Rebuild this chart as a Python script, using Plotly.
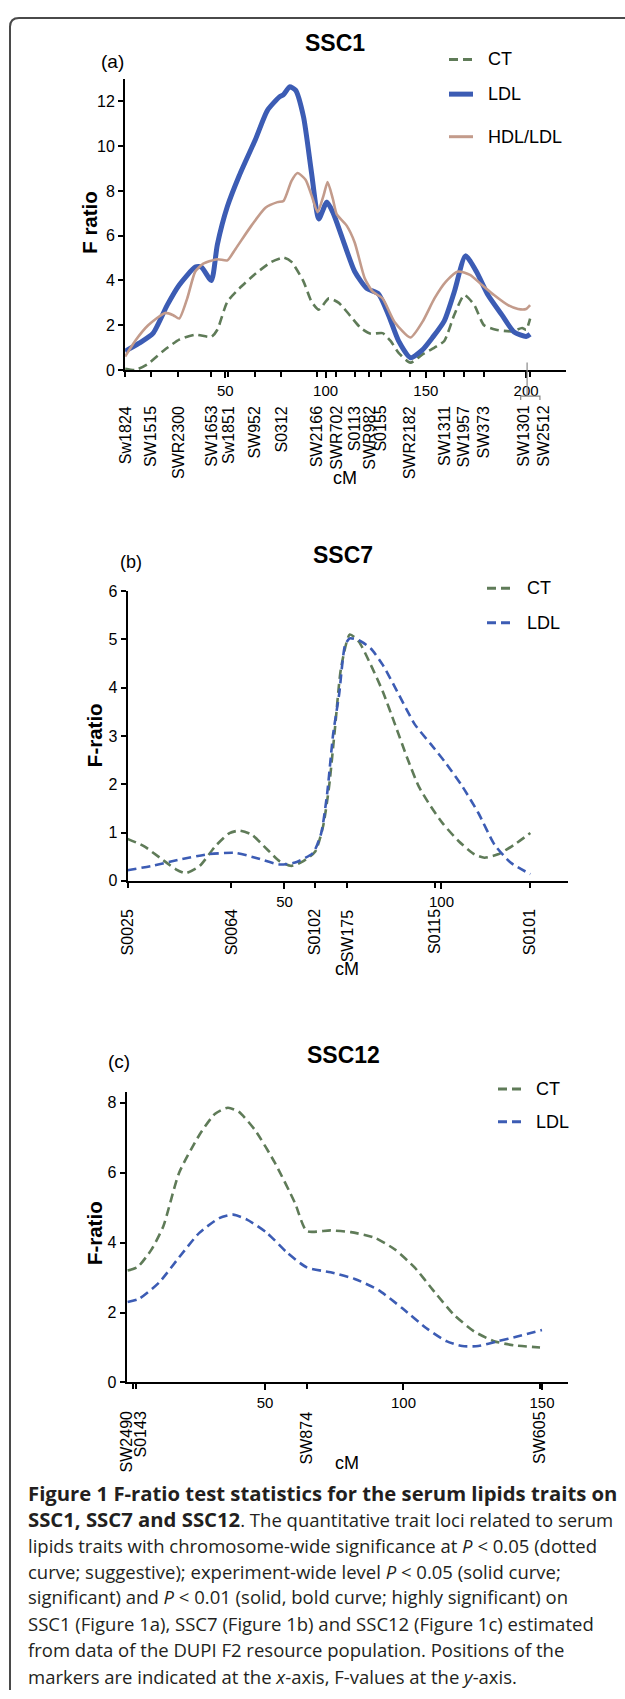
import plotly.graph_objects as go

W, H = 625, 1699


def px(x):
    return x / W


def py(y):
    return 1 - y / H


FONT = "Liberation Sans, Arial, Helvetica, sans-serif"
CAP_FONT = "Open Sans, sans-serif"
GREEN = "#5f7b58"
BLUE = "#3c5cb4"
TAN = "#c39b8b"

# ---------------- Panel (a) SSC1 ----------------
a_ct_cm = [0, 5, 11, 19, 27, 35, 43, 46, 51, 57, 65, 73, 79, 83, 89, 93, 96.6, 101.6, 106.6,
           112.5, 117.5, 122.5, 128.4, 132.4, 136.4, 142.3, 148.3, 154.3, 159.2, 164.2, 169.2,
           174.2, 179, 185, 193, 198, 200, 202]
a_ct_f = [0.06, 0.0, 0.25, 0.85, 1.36, 1.58, 1.48, 1.8, 3.05, 3.65, 4.3, 4.83, 5.02, 4.83, 3.95,
          3.05, 2.7, 3.2, 3.0, 2.4, 1.88, 1.62, 1.65, 1.3, 0.77, 0.33, 0.7, 1.0, 1.3, 2.47, 3.35,
          2.9, 2.0, 1.8, 1.73, 1.88, 1.8, 2.3]

a_ldl_cm = [0, 7, 14, 21, 27, 35, 38, 43, 46, 51, 57, 65, 71, 77, 79, 82, 85, 89, 93, 96.6,
            100.6, 103.6, 108.5, 114.5, 120.5, 126.4, 131.4, 136.4, 142.3, 148.3, 153.3, 159.2,
            164.2, 169.8, 175.2, 181, 188, 194, 200, 202]
a_ldl_f = [0.84, 1.2, 1.65, 2.9, 3.8, 4.6, 4.6, 4.0, 5.6, 7.3, 8.7, 10.3, 11.6, 12.2, 12.3, 12.65,
           12.5, 11.3, 8.8, 6.75, 7.5, 7.05, 5.85, 4.4, 3.65, 3.4, 2.45, 1.3, 0.55, 0.9, 1.45, 2.2,
           3.5, 5.1, 4.4, 3.35, 2.45, 1.7, 1.5, 1.6]

a_hdl_cm = [0, 5, 11.5, 20, 24, 27, 31, 35, 39, 46, 51, 55, 63, 70, 76, 79, 83, 86, 90, 93, 96,
            99, 101, 103.6, 105.6, 110.5, 114.5, 119.5, 123.5, 128.4, 134.4, 142.3, 148.3, 154.3,
            160, 166, 172, 178, 184, 191, 196, 200, 202]
a_hdl_f = [0.6, 1.3, 2.0, 2.55, 2.45, 2.3, 3.2, 4.4, 4.75, 4.95, 4.9, 5.4, 6.45, 7.25, 7.5, 7.55,
           8.45, 8.8, 8.5, 7.8, 7.05, 7.8, 8.4, 7.65, 6.95, 6.45, 5.7, 4.1, 3.5, 3.2, 2.15, 1.45,
           2.15, 3.2, 3.95, 4.4, 4.25, 3.8, 3.35, 2.9, 2.73, 2.73, 2.9]

a_markers = ["Sw1824", "SW1515", "SWR2300", "SW1653", "Sw1851", "SW952", "S0312", "SW2166",
             "SWR702", "S0113", "SWR982", "S0155", "SWR2182", "SW1311", "SW1957", "SW373",
             "SW1301", "SW2512"]
a_marker_cm = [0, 12.7, 26.6, 43, 51.3, 64.8, 78, 95.6, 105, 114.5, 121.5, 127.4, 142, 159, 169,
               179, 200, 202]
a_xticks = [50, 100, 150, 200]
a_yticks = [0, 2, 4, 6, 8, 10, 12]

# ---------------- Panel (b) SSC7 ----------------
b_ct_cm = [0, 5.2, 10.3, 15.4, 18.5, 23, 28, 32.5, 35.7, 39.5, 44.5, 48.4, 52.2, 56, 59.8, 62.3,
           64.2, 66.1, 68, 70.8, 73.7, 77.5, 81.3, 85.2, 89, 92.8, 96.6, 100.4, 105.5, 110.5,
           113.7, 118, 123.2, 128.3]
b_ct_f = [0.87, 0.72, 0.48, 0.24, 0.16, 0.31, 0.72, 0.99, 1.04, 0.96, 0.65, 0.41, 0.31, 0.41,
          0.61, 1.13, 1.95, 3.17, 4.4, 5.1, 4.95, 4.47, 3.92, 3.24, 2.56, 1.95, 1.54, 1.19, 0.82,
          0.55, 0.48, 0.55, 0.75, 0.99]
b_ldl_cm = [0, 7.7, 16.6, 25.5, 34.4, 40.7, 48.4, 53.4, 59.1, 61.7, 63.6, 65.5, 67.4, 69.3, 70.8,
            73.7, 77.5, 81.3, 86.4, 91.5, 96.6, 101.6, 106.7, 111.8, 116.9, 122, 128.3]
b_ldl_f = [0.22, 0.31, 0.44, 0.55, 0.58, 0.48, 0.34, 0.38, 0.58, 0.99, 1.81, 3.04, 3.86, 4.88,
           5.02, 4.98, 4.81, 4.47, 3.86, 3.24, 2.83, 2.42, 1.95, 1.4, 0.75, 0.38, 0.14]
b_markers = ["S0025", "S0064", "S0102", "SW175", "S0115", "S0101"]
b_marker_cm = [0, 33.1, 59.8, 69.9, 97.8, 128.3]
b_xticks = [50, 100]
b_yticks = [0, 1, 2, 3, 4, 5, 6]

# ---------------- Panel (c) SSC12 ----------------
c_ct_cm = [0.4, 4, 9, 13.3, 19, 26.3, 32, 36.6, 40.6, 46.4, 53.6, 60.8, 65.1, 73.7, 81, 89.6,
           96.8, 104, 111.2, 118.3, 125.5, 132.7, 139.9, 149.3]
c_ct_f = [3.2, 3.3, 3.8, 4.47, 6.0, 7.08, 7.69, 7.86, 7.74, 7.22, 6.28, 5.14, 4.33, 4.35, 4.3,
          4.14, 3.81, 3.29, 2.59, 1.93, 1.46, 1.18, 1.06, 1.0]
c_ldl_cm = [0.4, 4.7, 11.9, 19, 26.3, 33.5, 38.5, 43.5, 50.7, 57.9, 65.1, 73.7, 82.4, 91, 99.6,
            108.3, 115.5, 121.2, 127, 134.2, 141.4, 150]
c_ldl_f = [2.3, 2.4, 2.87, 3.58, 4.28, 4.7, 4.8, 4.66, 4.28, 3.72, 3.29, 3.15, 2.96, 2.64, 2.12,
           1.55, 1.18, 1.04, 1.04, 1.18, 1.32, 1.5]
c_markers = ["SW2490", "S0143", "SW874", "SW605"]
c_marker_cm = [2.5, 3.5, 65, 149.3]
c_xticks = [50, 100, 150]
c_yticks = [0, 2, 4, 6, 8]

BOLD_SPAN = "<span style='font-size:20.3px'><b>{}</b></span>"
caption_lines = [
    BOLD_SPAN.format("Figure 1 F-ratio test statistics for the serum lipids traits on"),
    BOLD_SPAN.format("SSC1, SSC7 and SSC12") + ". The quantitative trait loci related to serum",
    "lipids traits with chromosome-wide significance at <i>P</i> &lt; 0.05 (dotted",
    "curve; suggestive); experiment-wide level <i>P</i> &lt; 0.05 (solid curve;",
    "significant) and <i>P</i> &lt; 0.01 (solid, bold curve; highly significant) on",
    "SSC1 (Figure 1a), SSC7 (Figure 1b) and SSC12 (Figure 1c) estimated",
    "from data of the DUPI F2 resource population. Positions of the",
    "markers are indicated at the <i>x</i>-axis, F-values at the <i>y</i>-axis.",
]

DASH = "9px,5px"

fig = go.Figure()


def add_line(x, y, color, width, dash, xa, ya):
    fig.add_trace(go.Scatter(
        x=x, y=y, mode="lines", xaxis=xa, yaxis=ya, showlegend=False, hoverinfo="skip",
        line=dict(color=color, width=width, dash=dash, shape="spline", smoothing=0.6)))


add_line(a_ct_cm, a_ct_f, GREEN, 2.6, DASH, "x", "y")
add_line(a_ldl_cm, a_ldl_f, BLUE, 5, "solid", "x", "y")
add_line(a_hdl_cm, a_hdl_f, TAN, 2.6, "solid", "x", "y")
add_line(b_ct_cm, b_ct_f, GREEN, 2.6, DASH, "x2", "y2")
add_line(b_ldl_cm, b_ldl_f, BLUE, 2.6, DASH, "x2", "y2")
add_line(c_ct_cm, c_ct_f, GREEN, 2.6, DASH, "x3", "y3")
add_line(c_ldl_cm, c_ldl_f, BLUE, 2.6, DASH, "x3", "y3")


def xax(domain, rng, ticks, markers, anchor):
    return dict(domain=domain, range=rng, anchor=anchor, tickmode="array", tickvals=ticks,
                ticks="outside", ticklen=6, tickwidth=2, tickcolor="black",
                showline=True, linewidth=2, linecolor="black", showgrid=False, zeroline=False,
                tickfont=dict(family=FONT, size=15, color="black"),
                minor=dict(tickmode="array", tickvals=markers, ticks="outside", ticklen=5,
                           tickwidth=1.5, tickcolor="black", showgrid=False),
                fixedrange=True)


def yax(domain, rng, ticks, anchor, size=16):
    return dict(domain=domain, range=rng, anchor=anchor, tickmode="array", tickvals=ticks,
                ticks="outside", ticklen=5, tickwidth=2, tickcolor="black",
                showline=True, linewidth=2, linecolor="black", showgrid=False, zeroline=False,
                tickfont=dict(family=FONT, size=size, color="black"), fixedrange=True)


layout = dict(
    width=W, height=H, margin=dict(l=0, r=0, t=0, b=0, pad=0),
    paper_bgcolor="white", plot_bgcolor="white", showlegend=False,
    xaxis=xax([px(125.1), px(566.2)], [0, 220], a_xticks, a_marker_cm, "y"),
    yaxis=yax([py(365.7), py(71.7)], [0, 13], a_yticks, "x"),
    xaxis2=xax([px(127.5), px(568)], [0, 140.3], b_xticks, b_marker_cm, "y2"),
    yaxis2=yax([py(881.7), py(588.9)], [0, 6], b_yticks, "x2"),
    xaxis3=xax([px(126.5), px(568)], [0, 159.4], c_xticks, c_marker_cm, "y3"),
    yaxis3=yax([py(1388.3), py(1095.3)], [0, 8.3], c_yticks, "x3"),
)

ann = []


def text(x, y, s, size, bold=False, angle=0, xanchor="center", yanchor="middle",
         family=FONT, color="black"):
    ann.append(dict(x=px(x), y=py(y), xref="paper", yref="paper", text=f"<b>{s}</b>" if bold else s,
                    showarrow=False, xanchor=xanchor, yanchor=yanchor, textangle=angle,
                    font=dict(family=family, size=size, color=color)))


# titles & panel letters
text(335, 35, "SSC1", 23, bold=True)
text(113, 54, "(a)", 19)
text(343, 553, "SSC7", 23, bold=True)
text(131, 560, "(b)", 18)
text(343, 1058, "SSC12", 23, bold=True)
text(119, 1064, "(c)", 19)

# axis titles
text(90, 217, "F ratio", 20.5, bold=True, angle=-90)
text(94.5, 735, "F-ratio", 20.5, bold=True, angle=-90)
text(94.5, 1238, "F-ratio", 20.5, bold=True, angle=-90)
text(345, 475, "cM", 18)
text(347, 971, "cM", 18)
text(347, 1470, "cM", 18)


# marker labels
def marker_labels(names, cms, xref, yref, shift, offsets=None):
    for n, c in zip(names, cms):
        off = offsets.get(n, 0) if offsets else 0
        ann.append(dict(x=c + off, y=0, xref=xref, yref=yref + " domain", text=n, textangle=-90,
                        xanchor="center", yanchor="top", yshift=shift, showarrow=False,
                        font=dict(family=FONT, size=16, color="black")))


marker_labels(a_markers, a_marker_cm, "x", "y", -34, {"SW1301": -1.5, "SW2512": 6.5})
marker_labels(b_markers, b_marker_cm, "x2", "y2", -26)
marker_labels(c_markers, c_marker_cm, "x3", "y3", -27, {"SW2490": -2.5, "S0143": 1.4})

shapes = []


def legend_item(x0, x1, y, color, width, dash, label, tx):
    shapes.append(dict(type="line", xref="paper", yref="paper", x0=px(x0), x1=px(x1),
                       y0=py(y), y1=py(y), line=dict(color=color, width=width, dash=dash)))
    text(tx, y, label, 18, xanchor="left")


legend_item(449, 473, 52, GREEN, 3, DASH, "CT", 486)
legend_item(449, 473, 87, BLUE, 5, "solid", "LDL", 486)
legend_item(449, 473, 130, TAN, 3, "solid", "HDL/LDL", 486)
legend_item(487, 512, 586, GREEN, 3, DASH, "CT", 525)
legend_item(487, 512, 621, BLUE, 3, DASH, "LDL", 525)
legend_item(498, 522, 1092, GREEN, 3, DASH, "CT", 534)
legend_item(498, 522, 1125, BLUE, 3, DASH, "LDL", 534)

# bracket for SW1301 / SW2512
shapes.append(dict(type="line", xref="x", yref="paper", x0=200.5, x1=200.5, y0=py(358), y1=py(392),
                   line=dict(color="#888888", width=1.2)))
shapes.append(dict(type="path", xref="x", yref="paper",
                   path=f"M 197.3,{py(396)} L 197.3,{py(392)} L 206.9,{py(392)} L 206.9,{py(396)}",
                   line=dict(color="#888888", width=1.2)))

# frame
shapes.append(dict(type="path", xref="paper", yref="paper",
                   path=(f"M {px(10)},{py(1699)} L {px(10)},{py(19)} "
                         f"Q {px(10)},{py(10)} {px(19)},{py(10)} L {px(625)},{py(10)}"),
                   line=dict(color="#4a4a4a", width=2)))

# caption
cap_y = [1500, 1526, 1552.7, 1579, 1605, 1631.7, 1658, 1685]
for line, yy in zip(caption_lines, cap_y):
    text(26, yy, line, 18.5, xanchor="left", family=CAP_FONT, color="#231f20")

layout["annotations"] = ann
layout["shapes"] = shapes
fig.update_layout(**layout)
fig.write_html("out.html", config={"displayModeBar": False},
               post_script="document.body.style.margin='0';document.body.style.overflow='hidden';")
